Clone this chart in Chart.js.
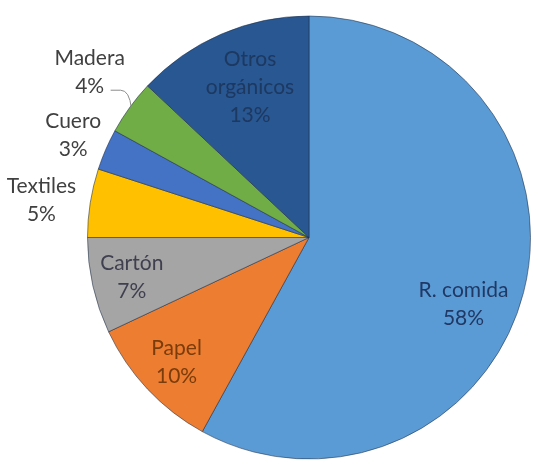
<!DOCTYPE html>
<html lang="es">
<head>
    <meta charset="UTF-8">
    <title>Composición de residuos</title>
    <script src="https://cdn.jsdelivr.net/npm/chart.js"></script>
    <style>
        body { margin: 0; background: #ffffff; }
        canvas { display: block; }
    </style>
</head>
<body>
<canvas id="pieChart" width="538" height="466"></canvas>

<script>
    // data
    const categories = ['R. comida', 'Papel', 'Cartón', 'Textiles', 'Cuero', 'Madera', 'Otros orgánicos'];
    const labelLines = [['R. comida'], ['Papel'], ['Cartón'], ['Textiles'], ['Cuero'], ['Madera'], ['Otros', 'orgánicos']];
    const percents = [58, 10, 7, 5, 3, 4, 13];

    const sliceColors = ['#5b9bd5', '#ed7d31', '#a5a5a5', '#ffc000', '#4472c4', '#70ad47', '#285791'];
    const textColors = ['#1f3864', '#7a3c0a', '#3f3f4f', '#404040', '#404040', '#404040', '#1d3861'];
    // radius factor and angle nudge (deg) for each label
    const labelRadius = [0.76, 0.82, 0.82, 1.22, 1.16, 1.24, 0.73];
    const labelNudge = [9, 0, 0, -1, 0, 1, 2];

    const sliceLabels = {
        id: 'sliceLabels',
        afterDatasetsDraw(chart) {
            const ctx = chart.ctx;
            const arcs = chart.getDatasetMeta(0).data;
            ctx.save();
            ctx.font = '21px Lato, "Open Sans", sans-serif';
            ctx.textAlign = 'center';
            ctx.textBaseline = 'middle';
            arcs.forEach((arc, i) => {
                const p = arc.getProps(['x', 'y', 'startAngle', 'endAngle', 'outerRadius']);
                const mid = (p.startAngle + p.endAngle) / 2 + labelNudge[i] * Math.PI / 180;
                const r = p.outerRadius * labelRadius[i];
                const cx = p.x + Math.cos(mid) * r;
                const cy = p.y + Math.sin(mid) * r;
                const lines = labelLines[i].concat([percents[i] + '%']);
                const lh = 28;
                const top = cy - (lines.length - 1) * lh / 2;
                ctx.fillStyle = textColors[i];
                lines.forEach((t, k) => ctx.fillText(t, cx, top + k * lh));

                // leader line for Madera
                if (categories[i] === 'Madera') {
                    const em = (p.startAngle + p.endAngle) / 2;
                    const ex = p.x + Math.cos(em) * (p.outerRadius - 2);
                    const ey = p.y + Math.sin(em) * (p.outerRadius - 2);
                    const sx = cx + 21;
                    const sy = top + lh + 4;
                    ctx.strokeStyle = '#8c8c8c';
                    ctx.lineWidth = 1;
                    ctx.beginPath();
                    ctx.moveTo(sx, sy);
                    ctx.lineTo(sx + 10, sy);
                    ctx.quadraticCurveTo(ex - 2, sy, ex, ey);
                    ctx.stroke();
                }
            });
            ctx.restore();
        }
    };

    new Chart(document.getElementById('pieChart'), {
        type: 'pie',
        data: {
            labels: categories,
            datasets: [{
                data: percents,
                backgroundColor: sliceColors,
                borderColor: 'rgba(30, 45, 70, 0.55)',
                borderWidth: 1
            }]
        },
        options: {
            responsive: false,
            animation: false,
            layout: { padding: { top: 15, bottom: 6, left: 87, right: 7 } },
            plugins: {
                legend: { display: false },
                tooltip: { enabled: false }
            }
        },
        plugins: [sliceLabels]
    });
</script>
</body>
</html>
